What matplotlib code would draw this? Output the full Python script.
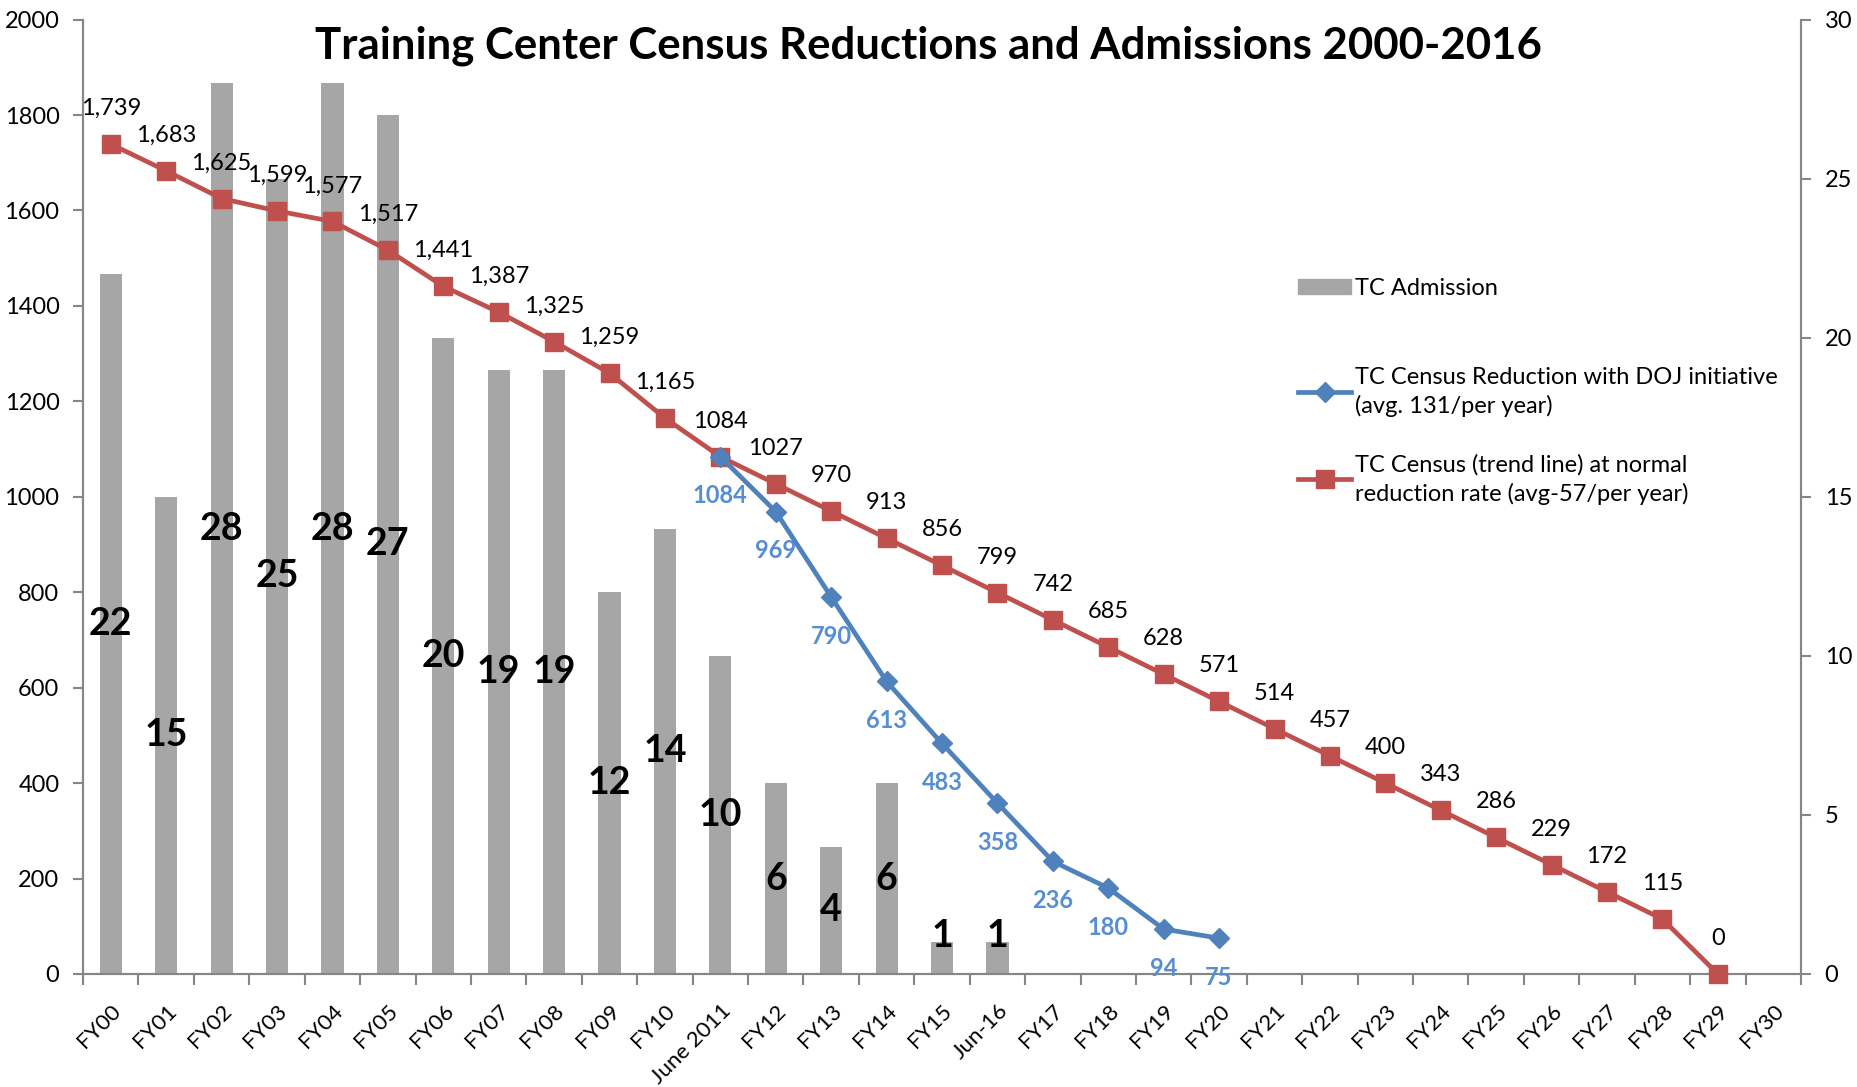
import numpy as np
import matplotlib.pyplot as plt
import matplotlib.transforms as mtransforms
from matplotlib.lines import Line2D
from matplotlib.patches import Patch

plt.rcParams['font.family'] = ['Lato', 'DejaVu Sans']

# categories on the x axis
categories = ['FY00', 'FY01', 'FY02', 'FY03', 'FY04', 'FY05', 'FY06', 'FY07', 'FY08',
              'FY09', 'FY10', 'June 2011', 'FY12', 'FY13', 'FY14', 'FY15', 'Jun-16',
              'FY17', 'FY18', 'FY19', 'FY20', 'FY21', 'FY22', 'FY23', 'FY24', 'FY25',
              'FY26', 'FY27', 'FY28', 'FY29', 'FY30']

# TC admissions (right axis), FY00 .. Jun-16
admissions = [22, 15, 28, 25, 28, 27, 20, 19, 19, 12, 14, 10, 6, 4, 6, 1, 1]

# trend line census, FY00 .. FY29
trend = [1739, 1683, 1625, 1599, 1577, 1517, 1441, 1387, 1325, 1259, 1165, 1084,
         1027, 970, 913, 856, 799, 742, 685, 628, 571, 514, 457, 400, 343, 286,
         229, 172, 115, 0]
trend_labels = ['1,739', '1,683', '1,625', '1,599', '1,577', '1,517', '1,441', '1,387',
                '1,325', '1,259', '1,165', '1084', '1027', '970', '913', '856', '799',
                '742', '685', '628', '571', '514', '457', '400', '343', '286', '229',
                '172', '115', '0']

# DOJ initiative census, June 2011 .. FY20
doj_start = 11
doj = [1084, 969, 790, 613, 483, 358, 236, 180, 94, 75]

red = '#C0504D'
blue = '#4F81BD'
blue_lbl = '#558ED5'
gray = '#A6A6A6'
axis_col = '#868686'

fig = plt.figure(figsize=(18.58, 10.87), dpi=100)
ax = fig.add_axes([0.0447, 0.104, 0.9246, 0.878])
ax2 = ax.twinx()
ax.set_zorder(ax2.get_zorder() + 1)
ax.patch.set_visible(False)

x = np.arange(len(categories))

# bars on the right axis
xb = x[:len(admissions)]
ax2.bar(xb, admissions, width=0.4, color=gray, zorder=1)
for xi, v in zip(xb, admissions):
    ax2.text(xi, max(v / 2, 1.2), str(v), ha='center', va='center',
             fontsize=27, fontweight='bold', color='black')

# trend line
xt = x[:len(trend)]
ax.plot(xt, trend, color=red, lw=3.4, marker='s', markersize=13, clip_on=False, zorder=3)
for xi, v, s in zip(xt, trend, trend_labels):
    ax.annotate(s, (xi, v), xytext=(0, 18), textcoords='offset points',
                ha='center', va='bottom', fontsize=17, color='black')

# DOJ line
xd = x[doj_start:doj_start + len(doj)]
ax.plot(xd, doj, color=blue, lw=3.4, marker='D', markersize=10, clip_on=False, zorder=4)
for xi, v in zip(xd, doj):
    ax.annotate(str(v), (xi, v), xytext=(0, -20), textcoords='offset points',
                ha='center', va='top', fontsize=17, fontweight='bold', color=blue_lbl)

ax.set_xlim(-0.5, len(categories) - 0.5)
ax.set_ylim(0, 2000)
ax2.set_ylim(0, 30)
ax.set_yticks(np.arange(0, 2001, 200))
ax2.set_yticks(np.arange(0, 31, 5))

ax.set_xticks(x)
ax.set_xticklabels(categories, rotation=45, ha='right', rotation_mode='anchor', fontsize=16)
offset = mtransforms.ScaledTranslation(4 / 72, 0, fig.dpi_scale_trans)
for lbl in ax.get_xticklabels():
    lbl.set_transform(lbl.get_transform() + offset)
ax.set_xticks(np.arange(-0.5, len(categories), 1), minor=True)
ax.tick_params(axis='x', which='major', length=0, pad=19)
ax.tick_params(axis='x', which='minor', length=8, color=axis_col, width=1.5)
ax.tick_params(axis='y', labelsize=17, length=7, color=axis_col, width=1.5, pad=10)
ax2.tick_params(axis='y', labelsize=17, length=7, color=axis_col, width=1.5, pad=10)

for a in (ax, ax2):
    a.spines['top'].set_visible(False)
    for sp in ('left', 'right', 'bottom'):
        a.spines[sp].set_color(axis_col)
        a.spines[sp].set_linewidth(1.5)

fig.text(0.5, 0.958, 'Training Center Census Reductions and Admissions 2000-2016',
         ha='center', va='center', fontsize=31.5, fontweight='bold')

# legend: bar entry alone, then the two lines
leg1 = fig.legend([Patch(color=gray)], ['TC Admission'], loc='center left',
                  bbox_to_anchor=(0.6986, 0.735), frameon=False, fontsize=17,
                  borderpad=0, borderaxespad=0, handlelength=2.25,
                  handletextpad=0.15, handleheight=0.6)
line_handles = [
    Line2D([], [], color=blue, lw=3.4, marker='D', markersize=10),
    Line2D([], [], color=red, lw=3.4, marker='s', markersize=13),
]
line_labels = ['TC Census Reduction with DOJ initiative\n(avg. 131/per year)',
               'TC Census (trend line) at normal\nreduction rate (avg-57/per year)']
leg2 = fig.legend(line_handles, line_labels, loc='upper left', bbox_to_anchor=(0.6986, 0.6625),
                  frameon=False, fontsize=17, borderpad=0, borderaxespad=0,
                  labelspacing=1.55, handlelength=2.25, handletextpad=0.15)
for t in leg2.get_texts():
    t.set_linespacing(1.4)

fig.savefig('out.png', dpi=100)
